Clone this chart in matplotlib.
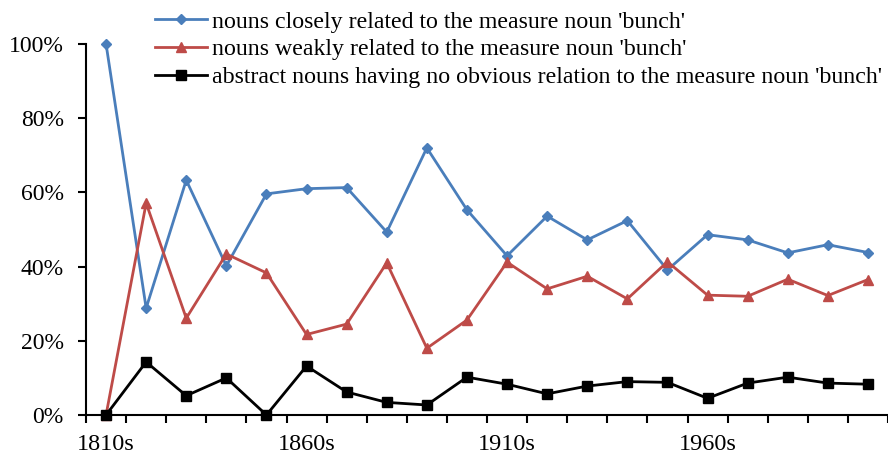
import matplotlib
matplotlib.use("Agg")
import matplotlib.pyplot as plt
from matplotlib.ticker import FixedLocator, PercentFormatter

plt.rcParams['font.family'] = ['Liberation Serif', 'DejaVu Serif']

decades = ['1810s', '1820s', '1830s', '1840s', '1850s', '1860s', '1870s', '1880s', '1890s', '1900s',
           '1910s', '1920s', '1930s', '1940s', '1950s', '1960s', '1970s', '1980s', '1990s', '2000s']
closely = [100, 28.8, 63.3, 40.2, 59.6, 61.0, 61.3, 49.3, 72.0, 55.3,
           42.9, 53.6, 47.2, 52.4, 39.1, 48.6, 47.2, 43.7, 45.9, 43.8]
weakly = [0, 57.1, 26.1, 43.4, 38.3, 21.7, 24.5, 41.0, 18.0, 25.6,
          41.2, 34.0, 37.4, 31.3, 41.3, 32.3, 32.0, 36.6, 32.2, 36.5]
abstract = [0, 14.3, 5.2, 10.0, 0, 13.2, 6.2, 3.4, 2.7, 10.2,
            8.3, 5.7, 7.8, 9.0, 8.8, 4.5, 8.6, 10.2, 8.6, 8.3]
labels = ["nouns closely related to the measure noun 'bunch'",
          "nouns weakly related to the measure noun 'bunch'",
          "abstract nouns having no obvious relation to the measure noun 'bunch'"]

fig = plt.figure(figsize=(8.88, 4.54), dpi=100)
ax = fig.add_axes([86 / 888, 39 / 454, 1 - 86 / 888, (415 - 44) / 454])

x = list(range(len(decades)))
ax.plot(x, closely, color='#4A7EBB', lw=2, marker='D', ms=5.5, clip_on=False, label=labels[0])
ax.plot(x, weakly, color='#BE4B48', lw=2, marker='^', ms=7, clip_on=False, label=labels[1])
ax.plot(x, abstract, color='black', lw=2, marker='s', ms=7, clip_on=False, label=labels[2], zorder=3)

ax.set_xlim(-0.5, 19.5)
ax.set_ylim(0, 100)
ax.set_yticks([0, 20, 40, 60, 80, 100])
ax.yaxis.set_major_formatter(PercentFormatter(decimals=0))

# category axis: ticks between categories, labels every 5 decades
ax.xaxis.set_major_locator(FixedLocator([i - 0.5 for i in range(21)]))
ax.xaxis.set_major_formatter(plt.NullFormatter())
ax.xaxis.set_minor_locator(FixedLocator([0, 5, 10, 15]))
ax.set_xticklabels([decades[i] for i in [0, 5, 10, 15]], minor=True)
ax.tick_params(axis='x', which='major', length=6, width=1.5, direction='out')
ax.tick_params(axis='x', which='minor', length=0, pad=14, labelsize=17.5)
ax.tick_params(axis='y', length=6, width=1.5, direction='out', pad=10, labelsize=17)

for s in ['top', 'right']:
    ax.spines[s].set_visible(False)
for s in ['left', 'bottom']:
    ax.spines[s].set_linewidth(1.5)

fig.legend(loc='upper left', bbox_to_anchor=(155 / 888, 1 - 11 / 454), frameon=False,
           fontsize=17.2, handlelength=2.18, handletextpad=0.2, labelspacing=0.25,
           borderaxespad=0, borderpad=0.0)

fig.savefig('out.png', dpi=100)
